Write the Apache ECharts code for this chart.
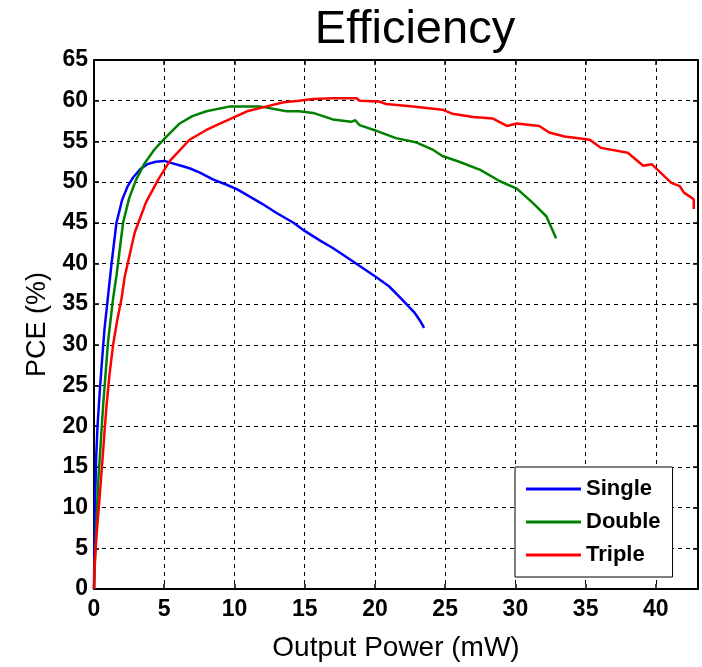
<!DOCTYPE html>
<html>
<head>
<meta charset="utf-8">
<script src="https://cdn.jsdelivr.net/npm/echarts@6/dist/echarts.min.js"></script>
<style>
  html, body { margin: 0; padding: 0; background: #ffffff; }
  #chart { width: 702px; height: 667px; }
</style>
</head>
<body>
<div id="chart"></div>
<script>
// PCE versus output power for single, double and triple configurations
const seriesNames = ['Single', 'Double', 'Triple'];

const singleX = [0, 0.03, 0.08, 0.15, 0.25, 0.4, 0.55, 0.75, 1.0, 1.25, 1.6, 2.0, 2.4, 2.8, 3.3, 3.8, 4.4, 5.0, 5.6, 6.2, 6.8, 7.5, 8.5, 9.4, 10.2, 11.0, 12.0, 13.0, 14.2, 15.0, 16.1, 17.0, 17.7, 19.0, 20.1, 21.0, 21.8, 22.8, 23.2, 23.5];
const singleY = [0, 5, 11, 16, 20, 24, 27.6, 32, 36, 40, 45, 47.8, 49.5, 50.6, 51.6, 52.2, 52.5, 52.6, 52.3, 52.0, 51.7, 51.2, 50.3, 49.7, 49.1, 48.3, 47.3, 46.2, 45.0, 44.0, 42.8, 41.9, 41.1, 39.6, 38.3, 37.2, 35.8, 34.0, 33.0, 32.1];

const doubleX = [0, 0.1, 0.29, 0.64, 1.0, 1.36, 1.6, 2.07, 2.5, 3.0, 3.6, 4.3, 5.05, 6.1, 7.0, 8.0, 9.7, 11.8, 13.7, 14.6, 15.6, 17.0, 18.3, 18.6, 18.9, 20.1, 21.5, 22.9, 24.1, 24.8, 26.0, 27.5, 28.9, 30.1, 31.2, 32.2, 32.9];
const doubleY = [0, 5, 12.9, 22.3, 30.4, 35.7, 38.5, 45, 48, 50.3, 52.3, 54, 55.4, 57.2, 58.1, 58.7, 59.3, 59.3, 58.7, 58.7, 58.5, 57.7, 57.4, 57.6, 57.0, 56.3, 55.4, 54.9, 54.0, 53.2, 52.5, 51.5, 50.1, 49.2, 47.5, 45.8, 43.1];

const tripleX = [0, 0.05, 0.2, 0.4, 0.65, 0.88, 1.1, 1.36, 1.65, 1.96, 2.2, 2.9, 3.7, 4.57, 5.4, 6.8, 8.0, 9.0, 10.9, 12.3, 13.5, 14.6, 15.6, 17.0, 18.7, 18.9, 20.3, 20.8, 22.7, 24.8, 25.5, 27.0, 28.4, 29.4, 30.1, 31.7, 32.4, 33.5, 35.3, 36.1, 38.0, 39.1, 39.7, 41.1, 41.7, 42.0, 42.7, 42.7];
const tripleY = [0, 3.2, 7, 11.3, 17, 22.3, 26.3, 30, 33, 35.7, 38.5, 43.8, 47.5, 50.3, 52.6, 55.2, 56.4, 57.2, 58.7, 59.3, 59.8, 60.0, 60.2, 60.3, 60.3, 60.0, 59.9, 59.6, 59.3, 58.9, 58.4, 58.0, 57.8, 56.9, 57.2, 56.9, 56.1, 55.6, 55.2, 54.2, 53.6, 52.0, 52.2, 49.9, 49.5, 48.7, 47.9, 46.7];

const xTicks = [0, 5, 10, 15, 20, 25, 30, 35, 40];
const yTicks = [0, 5, 10, 15, 20, 25, 30, 35, 40, 45, 50, 55, 60, 65];

const seriesColors = ['#0000ff', '#008000', '#ff0000'];

function pairs(xs, ys) {
  return xs.map((x, i) => [x, ys[i]]);
}

const chart = echarts.init(document.getElementById('chart'), null, { renderer: 'canvas' });

const tickFont = { fontFamily: 'Liberation Sans', fontWeight: 'bold', fontSize: 23, color: '#000' };
const gridLine = { show: true, lineStyle: { color: '#000', width: 1, type: [4, 4] } };
const frameLine = { show: true, onZero: false, lineStyle: { color: '#000', width: 2 } };
const innerTick = { show: true, inside: true, length: 5, lineStyle: { color: '#000', width: 1.5 } };

chart.setOption({
  animation: false,
  backgroundColor: '#ffffff',
  title: {
    text: 'Efficiency',
    left: 410,
    top: 2,
    textAlign: 'center',
    textStyle: { fontFamily: 'Liberation Sans', fontWeight: 'normal', fontSize: 47, color: '#000' }
  },
  grid: { left: 94, right: 4, top: 60, bottom: 74, containLabel: false },
  legend: {
    orient: 'vertical',
    left: 515,
    top: 467,
    padding: [11, 12, 11, 11],
    itemGap: 11,
    itemWidth: 55,
    itemHeight: 3,
    icon: 'rect',
    borderColor: '#000',
    borderWidth: 1,
    backgroundColor: '#fff',
    data: seriesNames,
    textStyle: { fontFamily: 'Liberation Sans', fontWeight: 'bold', fontSize: 22, color: '#000', lineHeight: 22 }
  },
  xAxis: [
    {
      type: 'value', min: 0, max: 43, interval: 5,
      name: 'Output Power (mW)', nameLocation: 'middle', nameGap: 45,
      nameTextStyle: { fontFamily: 'Liberation Sans', fontSize: 28, color: '#000' },
      axisLine: frameLine,
      axisTick: innerTick,
      axisLabel: Object.assign({ margin: 9, formatter: v => (xTicks.includes(v) ? String(v) : '') }, tickFont),
      splitLine: gridLine
    },
    {
      type: 'value', min: 0, max: 43, interval: 5, position: 'top',
      axisLine: frameLine,
      axisTick: innerTick,
      axisLabel: { show: false },
      splitLine: { show: false }
    }
  ],
  yAxis: [
    {
      type: 'value', min: 0, max: 65, interval: 5,
      name: 'PCE (%)', nameLocation: 'middle', nameGap: 43,
      nameTextStyle: { fontFamily: 'Liberation Sans', fontSize: 27, color: '#000' },
      axisLine: frameLine,
      axisTick: innerTick,
      axisLabel: Object.assign({ margin: 6, formatter: v => (yTicks.includes(v) ? String(v) : '') }, tickFont),
      splitLine: gridLine
    },
    {
      type: 'value', min: 0, max: 65, interval: 5, position: 'right',
      axisLine: frameLine,
      axisTick: innerTick,
      axisLabel: { show: false },
      splitLine: { show: false }
    }
  ],
  series: [
    { name: 'Single', type: 'line', data: pairs(singleX, singleY) },
    { name: 'Double', type: 'line', data: pairs(doubleX, doubleY) },
    { name: 'Triple', type: 'line', data: pairs(tripleX, tripleY) }
  ].map((s, i) => Object.assign(s, {
    xAxisIndex: 0, yAxisIndex: 0,
    showSymbol: false, symbol: 'none',
    color: seriesColors[i],
    lineStyle: { color: seriesColors[i], width: 2.5 },
    z: 3 + i
  }))
});
</script>
</body>
</html>
